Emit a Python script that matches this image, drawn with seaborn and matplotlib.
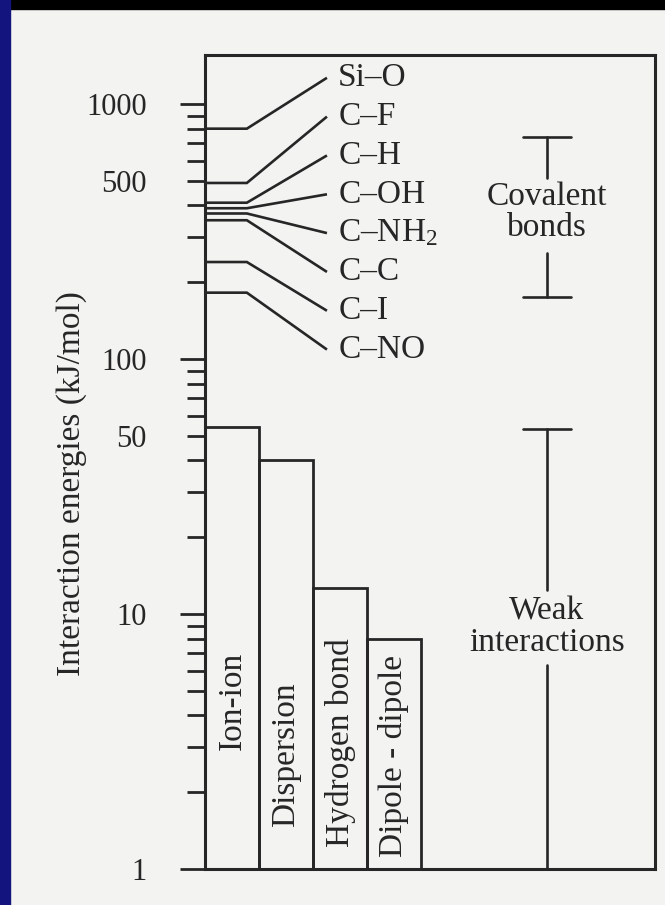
import matplotlib
matplotlib.use("Agg")
import matplotlib.pyplot as plt
import matplotlib.transforms as mtransforms
from matplotlib.patches import Rectangle
from matplotlib.ticker import FixedLocator, FuncFormatter
import pandas as pd
import seaborn as sns

# ---------------- data ----------------
interactions = ["Ion-ion", "Dispersion", "Hydrogen bond", "Dipole - dipole"]
interaction_energy = [54, 40, 12.7, 8]

bonds = ["Si–O", "C–F", "C–H", "C–OH", "C–NH$_2$", "C–C", "C–I", "C–NO"]
bond_energy = [800, 490, 410, 390, 372, 350, 240, 182]

covalent_range = [175, 745]
weak_range = [1, 53]

major_ticks = [1, 10, 100, 1000]
labeled_minor = [50, 500]
y_label = "Interaction energies (kJ/mol)"

# ---------------- style ----------------
sns.set_style("ticks")
plt.rcParams["font.family"] = ["Liberation Serif", "DejaVu Serif"]
plt.rcParams["mathtext.fontset"] = "custom"
plt.rcParams["mathtext.rm"] = "Liberation Serif"
plt.rcParams["mathtext.it"] = "Liberation Serif:italic"

INK = "#262626"
PAPER = "#f3f3f1"
FS = 24
TICK_FS = 22

fig = plt.figure(figsize=(6.65, 9.05), dpi=100, facecolor=PAPER)
ax = fig.add_axes([205 / 665, 36 / 905, 450 / 665, 814 / 905])
ax.set_facecolor(PAPER)

df = pd.DataFrame({"interaction": interactions, "energy": interaction_energy})
sns.barplot(data=df, x="interaction", y="energy", ax=ax, width=1.0,
            fill=False, color=INK, saturation=1, linewidth=2.0,
            errorbar=None)

YTOP = 1556
ax.set_yscale("log")
ax.set_ylim(1, YTOP)
ax.set_xlim(-0.5, 450 / 54 - 0.5)

# y ticks
ax.yaxis.set_major_locator(FixedLocator(major_ticks))
ax.yaxis.set_major_formatter(FuncFormatter(lambda v, p: f"{v:g}"))
minors = [m * 10 ** e for e in range(0, 3) for m in range(2, 10)]
ax.yaxis.set_minor_locator(FixedLocator(minors))
ax.yaxis.set_minor_formatter(
    FuncFormatter(lambda v, p: f"{v:g}" if round(v) in labeled_minor else ""))
ax.tick_params(axis="y", which="major", length=18, width=2.0, pad=24,
               labelsize=TICK_FS, color=INK, labelcolor=INK)
ax.tick_params(axis="y", which="minor", length=13, width=2.0, pad=29,
               labelsize=TICK_FS, color=INK, labelcolor=INK)
ax.tick_params(axis="x", bottom=False, labelbottom=False)
ax.set_xlabel("")
ax.set_ylabel(y_label, fontsize=FS, color=INK)
ax.yaxis.set_label_coords(-0.262, 0.474)

for sp in ax.spines.values():
    sp.set_visible(True)
    sp.set_linewidth(2.2)
    sp.set_color(INK)

# labels inside the bars (rotated)
bar_text_bottom = [0.146, 0.052, 0.027, 0.015]
trans_xd_ya = mtransforms.blended_transform_factory(ax.transData, ax.transAxes)
for i, (name, yb) in enumerate(zip(interactions, bar_text_bottom)):
    ax.text(i, yb, name, rotation=90, ha="center", va="bottom",
            fontsize=FS, color=INK, transform=trans_xd_ya)

# bond energy leaders and labels
trans = mtransforms.blended_transform_factory(ax.transAxes, ax.transData)
for i, (name, e) in enumerate(zip(bonds, bond_energy)):
    frac = 0.972 - i * 0.0477
    lv = YTOP ** frac
    ax.plot([0, 0.093, 0.271], [e, e, lv], transform=trans, color=INK,
            lw=1.9, solid_joinstyle="miter", solid_capstyle="butt",
            clip_on=False)
    ax.text(0.296, lv, name, transform=trans, ha="left", va="center",
            fontsize=FS, color=INK)

# range brackets
bx, bw = 5.83, 0.44
# covalent bonds
ax.plot([bx - bw, bx + bw], [covalent_range[1]] * 2, color=INK, lw=1.9)
ax.plot([bx - bw, bx + bw], [covalent_range[0]] * 2, color=INK, lw=1.9)
ax.plot([bx, bx], [covalent_range[1], 512], color=INK, lw=1.9)
ax.plot([bx, bx], [260, covalent_range[0]], color=INK, lw=1.9)
ax.text(bx, 377, "Covalent\nbonds", ha="center", va="center",
        fontsize=FS, color=INK, linespacing=1.0)
# weak interactions
ax.plot([bx - bw, bx + bw], [weak_range[1]] * 2, color=INK, lw=1.9)
ax.plot([bx, bx], [weak_range[1], 12.4], color=INK, lw=1.9)
ax.plot([bx, bx], [6.3, weak_range[0]], color=INK, lw=1.9)
ax.text(bx, 8.9, "Weak\ninteractions", ha="center", va="center",
        fontsize=FS, color=INK, linespacing=1.05)

# slide frame remnants: black top band and blue left stripe
fig.patches.append(Rectangle((0, 1 - 9 / 905), 1, 9 / 905,
                             transform=fig.transFigure, color="black"))
fig.patches.append(Rectangle((0, 0), 10 / 665, 1,
                             transform=fig.transFigure, color="#14147e"))

fig.savefig("out.png", dpi=100, facecolor=PAPER)
